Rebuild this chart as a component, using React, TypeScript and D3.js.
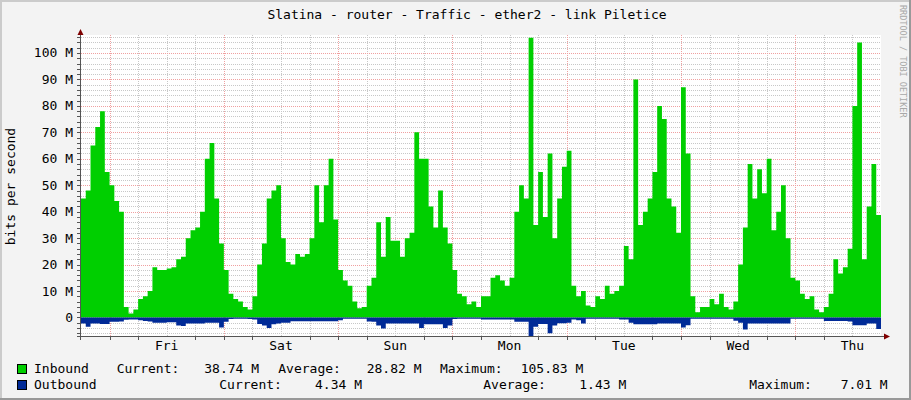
import React from 'react';
import * as d3 from 'd3';

const W = 911;
const H = 400;

const titleText = 'Slatina - router - Traffic - ether2 - link Piletice';
const yAxisTitle = 'bits per second';
const watermark = 'RRDTOOL / TOBI OETIKER';

// hourly samples starting Thursday 18:00, 7 days (168 hours)
const totalHours = 168;
const dayLabels = ['Fri', 'Sat', 'Sun', 'Mon', 'Tue', 'Wed', 'Thu'];
const yTickValues = [0, 10, 20, 30, 40, 50, 60, 70, 80, 90, 100];

// Inbound traffic, Mbit/s
const inbound = [
  45, 48, 65, 72, 78, 55, 50, 44, 40, 4,
  1.5, 3, 7, 8, 10, 19, 18, 18, 18.5, 19,
  22, 23, 30, 33, 34, 40, 60, 66, 45, 28,
  18, 9, 7, 6, 4, 3, 8, 20, 28, 45,
  48, 50,
  30, 21, 20, 24, 23, 24, 30, 50,
  36, 50, 60, 37, 18, 14, 12, 6, 3.5, 4,
  12, 15, 36, 23, 38, 29, 29, 23, 30, 32,
  70, 60, 60, 42, 34, 48, 34, 28, 18, 9,
  8, 5, 6, 4, 8, 8,
  15, 16, 14, 12,
  15, 40, 50, 45, 105.8, 35, 55, 38, 62, 30,
  45, 57, 63, 12, 8, 10, 4.5, 4, 8, 7,
  12, 9, 10, 12, 27, 22, 90, 35, 40, 45,
  55, 80, 75, 45, 42, 32,
  87, 62, 8, 2,
  4, 4, 7, 5, 9, 4, 3, 6, 20, 34,
  58, 45, 56, 47, 60, 33, 40, 50, 30, 15,
  14, 9, 7, 8, 3, 2, 4, 9, 22, 16.6,
  19, 26, 80, 104, 22, 42, 58, 38.74,
];

// Outbound traffic, Mbit/s (drawn below zero)
const outbound = [
  2.3, 3.5, 2.3, 2.3, 2.5, 2.5, 1.6, 1.6, 1.5, 0.9,
  0.8, 0.8, 1.0, 1.3, 1.5, 2.0, 2.0, 2.0, 1.8, 1.8,
  3.0, 3.2, 2.3, 2.3, 2.3, 2.3, 2.0, 2.0, 2.0, 3.8,
  1.6, 0.6, 0.5, 0.5, 0.5, 0.6, 0.8, 2.5, 3.0, 4.0,
  2.6, 2.3, 2.0, 2.0, 1.4, 1.4, 1.4, 1.4, 1.4, 1.4,
  1.4, 1.4, 1.4, 1.4, 1.0, 0.5, 0.5, 0.5, 0.5, 0.5,
  1.5, 1.6, 3.0, 4.2, 2.3, 2.3, 2.3, 2.3, 2.3, 2.3,
  2.3, 4.0, 2.6, 2.6, 2.6, 2.6, 4.0, 3.0, 0.6, 0.5,
  0.5, 0.5, 0.5, 0.5, 0.8, 0.8, 0.8, 0.8, 0.8, 0.8,
  0.8, 1.6, 1.6, 1.6, 7.0, 3.5, 2.5, 2.5, 6.0, 3.0,
  2.2, 2.2, 2.0, 0.8, 1.0, 2.3, 0.5, 0.5, 0.5, 0.5,
  0.5, 0.5, 0.5, 0.8, 0.8, 2.0, 2.6, 2.6, 2.6, 2.6,
  2.6, 2.3, 2.3, 2.3, 2.3, 2.3, 3.8, 2.9, 0.5, 0.5,
  0.5, 0.5, 0.5, 0.5, 0.5, 0.5, 0.5, 1.2, 2.0, 4.5,
  2.3, 2.3, 2.3, 2.3, 2.3, 2.3, 2.3, 2.3, 2.3, 0.5,
  0.5, 0.5, 0.5, 0.5, 0.5, 0.5, 1.3, 1.3, 1.3, 1.3,
  1.3, 1.5, 2.9, 2.9, 2.9, 2.3, 2.3, 4.34,
];

const seriesNames = ['Inbound', 'Outbound'];
const seriesColors = ['#00CF00', '#002A97'];
const legendLabels = ['Current:', 'Average:', 'Maximum:'];
const inboundStats = ['38.74 M', '28.82 M', '105.83 M'];
const outboundStats = ['4.34 M', '1.43 M', '7.01 M'];

const FONT = '"DejaVu Sans Mono", monospace';

export default function App() {
  const x = d3.scaleLinear().domain([0, totalHours]).range([81, 881]);
  const y = d3.scaleLinear().domain([-7, 106.8]).range([336, 35]);

  const inPts = inbound.map((v, i) => [i, v] as [number, number]);
  inPts.push([totalHours, inbound[inbound.length - 1]]);
  const outPts = outbound.map((v, i) => [i, -v] as [number, number]);
  outPts.push([totalHours, -outbound[outbound.length - 1]]);

  const area = d3
    .area<[number, number]>()
    .x((d) => x(d[0]))
    .y0(() => y(0))
    .y1((d) => y(d[1]))
    .curve(d3.curveStepAfter);

  const px = (v: number) => Math.round(v) + 0.5;

  const minorY: number[] = [];
  for (let v = -6; v <= 106; v += 2) if (v % 10 !== 0) minorY.push(v);
  const majorY = yTickValues;

  const vHours: number[] = [];
  for (let h = 6; h < totalHours; h += 6) vHours.push(h);

  const plotLeft = 81;
  const plotRight = 881;
  const plotTop = 35;
  const axisY = 336;

  const legendRow1 = [116.7, 204.3, 278.3, 366.7, 440, 520.7];
  const legendRow2 = [219.3, 315, 483.3, 579.3, 749.3, 840.7];

  return (
    <svg
      width={W}
      height={H}
      style={{ position: 'absolute', left: 0, top: 0, display: 'block' }}
      fontFamily={FONT}
    >
      <rect x={0} y={0} width={W} height={H} fill="#F3F3F3" />
      <rect x={0} y={0} width={W} height={2} fill="#CBCBCB" />
      <rect x={0} y={0} width={2} height={H} fill="#CBCBCB" />
      <rect x={W - 2} y={0} width={2} height={H} fill="#999999" />
      <rect x={0} y={H - 2} width={W} height={2} fill="#999999" />

      <rect x={plotLeft} y={plotTop} width={plotRight - plotLeft} height={axisY - plotTop} fill="#FFFFFF" />

      {minorY.map((v) => (
        <line
          key={'my' + v}
          x1={plotLeft}
          x2={plotRight}
          y1={px(y(v))}
          y2={px(y(v))}
          stroke="#C8C8C8"
          strokeDasharray="1,1"
          shapeRendering="crispEdges"
        />
      ))}
      {vHours
        .filter((h) => (h - 6) % 24 !== 0)
        .map((h) => (
          <line
            key={'vx' + h}
            x1={px(x(h))}
            x2={px(x(h))}
            y1={plotTop}
            y2={axisY}
            stroke="#C8C8C8"
            strokeDasharray="1,1"
            shapeRendering="crispEdges"
          />
        ))}
      {majorY.map((v) => (
        <line
          key={'My' + v}
          x1={plotLeft}
          x2={plotRight}
          y1={px(y(v))}
          y2={px(y(v))}
          stroke="#F0A0A0"
          strokeDasharray="1,1"
          shapeRendering="crispEdges"
        />
      ))}
      {vHours
        .filter((h) => (h - 6) % 24 === 0)
        .map((h) => (
          <line
            key={'Vx' + h}
            x1={px(x(h))}
            x2={px(x(h))}
            y1={plotTop}
            y2={axisY}
            stroke="#F0A0A0"
            strokeDasharray="1,1"
            shapeRendering="crispEdges"
          />
        ))}

      <path d={area(inPts) || ''} fill={seriesColors[0]} />
      <path d={area(outPts) || ''} fill={seriesColors[1]} />

      <line x1={77} x2={884} y1={axisY + 0.5} y2={axisY + 0.5} stroke="#555" shapeRendering="crispEdges" />
      <line x1={plotLeft - 0.5} x2={plotLeft - 0.5} y1={340} y2={33} stroke="#555" shapeRendering="crispEdges" />
      {minorY.concat(majorY).map((v) => (
        <line
          key={'yt' + v}
          x1={77}
          x2={80}
          y1={px(y(v))}
          y2={px(y(v))}
          stroke="#555"
          shapeRendering="crispEdges"
        />
      ))}
      {vHours
        .filter((h) => (h - 18) % 24 !== 0)
        .map((h) => (
          <line
            key={'xt' + h}
            x1={px(x(h))}
            x2={px(x(h))}
            y1={axisY + 1}
            y2={axisY + 4}
            stroke="#555"
            shapeRendering="crispEdges"
          />
        ))}
      <path d={`M${plotLeft - 3.5},${35} L${plotLeft + 2.5},${35} L${plotLeft - 0.5},${29} Z`} fill="#7F0000" />
      <path d={`M${884},${axisY - 2.5} L${884},${axisY + 3.5} L${890},${axisY + 0.5} Z`} fill="#7F0000" />

      {yTickValues.map((v) => (
        <text key={'yl' + v} x={73} y={y(v) + 4.5} textAnchor="end" fontSize={13} fill="#000">
          {v === 0 ? '0' : `${v} M`}
        </text>
      ))}
      {dayLabels.map((d, i) => (
        <text key={d} x={x(18 + 24 * i)} y={350} textAnchor="middle" fontSize={13} fill="#000">
          {d}
        </text>
      ))}

      <text x={467} y={18.5} textAnchor="middle" fontSize={13} fill="#000">
        {titleText}
      </text>
      <text transform={`translate(15,${186.5}) rotate(-90)`} textAnchor="middle" fontSize={13} fill="#000">
        {yAxisTitle}
      </text>
      <text transform={`translate(899.5,5) rotate(90)`} fontSize={8.5} fill="#A8A8A8">
        {watermark}
      </text>

      <rect x={17.5} y={364.5} width={9} height={9} fill={seriesColors[0]} stroke="#000" strokeWidth={1} />
      <rect x={17.5} y={380.5} width={9} height={9} fill={seriesColors[1]} stroke="#000" strokeWidth={1} />
      <text x={34} y={373} fontSize={13}>{seriesNames[0]}</text>
      <text x={34} y={389} fontSize={13}>{seriesNames[1]}</text>
      {legendLabels.map((l, i) => (
        <g key={'lg' + i}>
          <text x={legendRow1[i * 2]} y={373} fontSize={13}>{l}</text>
          <text x={legendRow1[i * 2 + 1]} y={373} fontSize={13}>{inboundStats[i]}</text>
          <text x={legendRow2[i * 2]} y={389} fontSize={13}>{l}</text>
          <text x={legendRow2[i * 2 + 1]} y={389} fontSize={13}>{outboundStats[i]}</text>
        </g>
      ))}
    </svg>
  );
}
